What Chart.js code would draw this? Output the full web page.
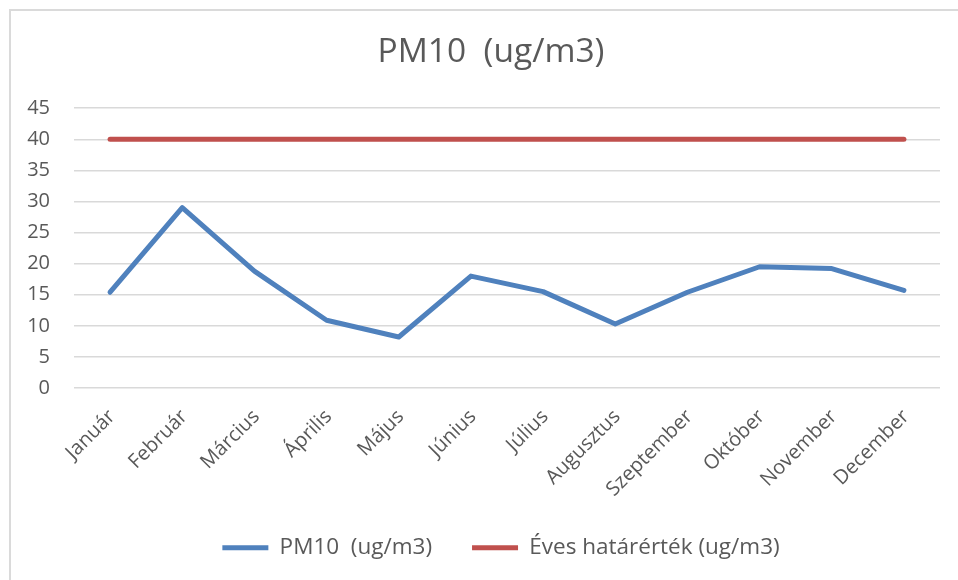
<!DOCTYPE html>
<html>
<head>
<meta charset="utf-8">
<script src="https://cdn.jsdelivr.net/npm/chart.js@4/dist/chart.umd.min.js"></script>
<style>
  html, body { margin: 0; padding: 0; background: #fff; }
  #wrap { position: relative; width: 958px; height: 580px; overflow: hidden; }
  #frame { position: absolute; left: 9px; top: 9px; width: 980px; height: 600px;
           border: 2px solid #dadada; pointer-events: none; box-sizing: border-box; }
</style>
</head>
<body>
<div id="wrap">
  <canvas id="myChart" width="958" height="580"></canvas>
  <div id="frame"></div>
</div>
<script>
const months = ['Január', 'Február', 'Március', 'Április', 'Május', 'Június',
  'Július', 'Augusztus', 'Szeptember', 'Október', 'November', 'December'];
const pm10 = [15.4, 29.0, 18.8, 10.9, 8.2, 18.0, 15.5, 10.3, 15.4, 19.5, 19.2, 15.7];
const limit = [40, 40, 40, 40, 40, 40, 40, 40, 40, 40, 40, 40];
const yTicks = [0, 5, 10, 15, 20, 25, 30, 35, 40, 45];

const textColor = '#595959';
const fontFamily = '"Open Sans", sans-serif';

Chart.defaults.font.family = fontFamily;
Chart.defaults.color = textColor;

// the title and legend sit a bit right of the plot centre in the original
const shiftBlocks = {
  id: 'shiftBlocks',
  afterLayout(chart) {
    chart.titleBlock.left += 16;
    chart.titleBlock.right += 16;
    chart.legend.left += 26;
    chart.legend.right += 26;
  }
};

const ctx = document.getElementById('myChart').getContext('2d');
new Chart(ctx, {
  type: 'line',
  data: {
    labels: months,
    datasets: [
      {
        label: 'PM10  (ug/m3)',
        data: pm10,
        borderColor: '#4f81bd',
        backgroundColor: '#4f81bd',
        borderWidth: 5,
        borderCapStyle: 'round',
        borderJoinStyle: 'round',
        pointRadius: 0,
        tension: 0
      },
      {
        label: 'Éves határérték (ug/m3)',
        data: limit,
        borderColor: '#c0504d',
        backgroundColor: '#c0504d',
        borderWidth: 5,
        borderCapStyle: 'round',
        borderJoinStyle: 'round',
        pointRadius: 0,
        tension: 0
      }
    ]
  },
  options: {
    responsive: false,
    animation: false,
    layout: { padding: { left: 10, right: 18, top: 0, bottom: 11 } },
    plugins: {
      title: {
        display: true,
        text: 'PM10  (ug/m3)',
        color: textColor,
        font: { size: 33.5, weight: 'normal' },
        padding: { top: 32, bottom: 36 }
      },
      legend: {
        position: 'bottom',
        labels: {
          usePointStyle: true,
          pointStyle: 'line',
          pointStyleWidth: 46,
          boxWidth: 26,
          padding: 40,
          color: textColor,
          font: { size: 22.5 }
        }
      },
      tooltip: { enabled: false }
    },
    scales: {
      x: {
        offset: true,
        grid: { display: false, drawTicks: false },
        border: { display: false },
        ticks: { minRotation: 45, maxRotation: 45, padding: 17, labelOffset: 2, font: { size: 20 }, color: textColor },
        afterFit(scale) { scale.height = 108.5; }
      },
      y: {
        min: 0,
        max: 45,
        afterBuildTicks(scale) { scale.ticks = yTicks.map(v => ({ value: v })); },
        grid: { color: '#d9d9d9', lineWidth: 1.5, drawTicks: false },
        border: { display: false },
        ticks: { padding: 24, font: { size: 20 }, color: textColor },
        afterFit(scale) { scale.width = 64; }
      }
    }
  },
  plugins: [shiftBlocks]
});
</script>
</body>
</html>
